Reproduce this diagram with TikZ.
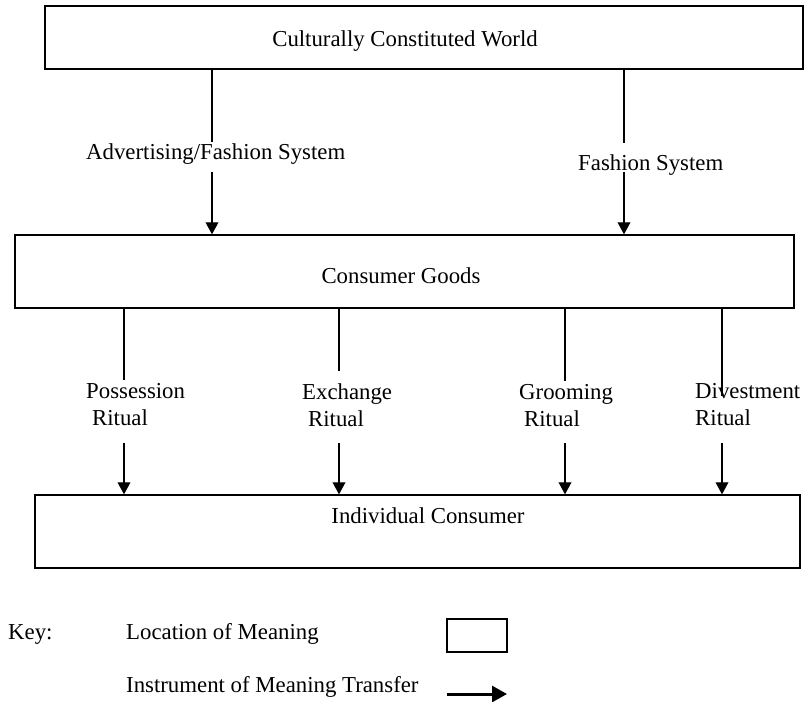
\documentclass[tikz,border=0pt]{standalone}
\usepackage{fontspec}
\setmainfont{Liberation Serif}
\usetikzlibrary{arrows.meta}
\begin{document}
\begin{tikzpicture}[x=1pt,y=-1pt,
  every node/.style={inner sep=0pt, font=\fontsize{22.8}{27}\selectfont},
  location/.style={draw=black, line width=1.3pt, rectangle},
  word/.style={anchor=base west},
  link/.style={draw=black, line width=1.2pt},
  transfer/.style={link, -{Triangle[width=12.7pt,length=12pt]}},
  keyarrow/.style={draw=black, line width=3pt, -{Triangle[width=16pt,length=15pt]}}]
  \useasboundingbox (0,0) rectangle (804,702);

  % locations of meaning
  \node[location, minimum width=758pt, minimum height=63pt] (world) at (424,37.5) {};
  \node[anchor=base] (worldtext) at (405,46) {Culturally Constituted World};

  \node[location, minimum width=779pt, minimum height=73pt] (goods) at (404.5,271.5) {};
  \node[anchor=base] (goodstext) at (401,283) {Consumer Goods};

  \node[location, minimum width=765pt, minimum height=73pt] (consumer) at (417.5,531.5) {};
  \node[anchor=base] (consumertext) at (428,523) {Individual Consumer};

  % instruments: world -> goods
  \node[word] (adv) at (86,159) {Advertising/Fashion System};
  \node[word] (fash) at (578,170) {Fashion System};
  \coordinate (a1) at (212,142);  \coordinate (a2) at (212,172);
  \coordinate (f1) at (624,143);  \coordinate (f2) at (624,172);
  \draw[link] (world.south -| a1) -- (a1);
  \draw[transfer] (a2) -- (goods.north -| a2);
  \draw[link] (world.south -| f1) -- (f1);
  \draw[transfer] (f2) -- (goods.north -| f2);

  % instruments: goods -> consumer
  \node[word] (poss) at (86,398) {Possession};
  \node[word] (possr) at (92,425) {Ritual};
  \node[word] (exch) at (302,399) {Exchange};
  \node[word] (exchr) at (308,426) {Ritual};
  \node[word] (groom) at (519,399) {Grooming};
  \node[word] (groomr) at (524,426) {Ritual};
  \node[word] (divest) at (695,398) {Divestment};
  \node[word] (divestr) at (695,425) {Ritual};

  \coordinate (p1) at (124,380);  \coordinate (p2) at (124,443);
  \coordinate (e1) at (339,371);  \coordinate (e2) at (339,443);
  \coordinate (g1) at (565,381);  \coordinate (g2) at (565,443);
  \coordinate (d1) at (722,396);  \coordinate (d2) at (722,443);
  \foreach \u/\v in {p1/p2, e1/e2, g1/g2, d1/d2} {
    \draw[link] (goods.south -| \u) -- (\u);
    \draw[transfer] (\v) -- (consumer.north -| \v);
  }

  % key
  \node[word] (key) at (8,639) {Key:};
  \node[word] (keyloc) at (126,639) {Location of Meaning};
  \node[word] (keyins) at (126,692) {Instrument of Meaning Transfer};
  \node[location, line width=1.1pt, minimum width=60pt, minimum height=33pt] (keybox) at (477,635.5) {};
  \coordinate (k1) at (447,694);
  \coordinate (k2) at (507,694);
  \draw[keyarrow] (k1) -- (k2);
\end{tikzpicture}
\end{document}
